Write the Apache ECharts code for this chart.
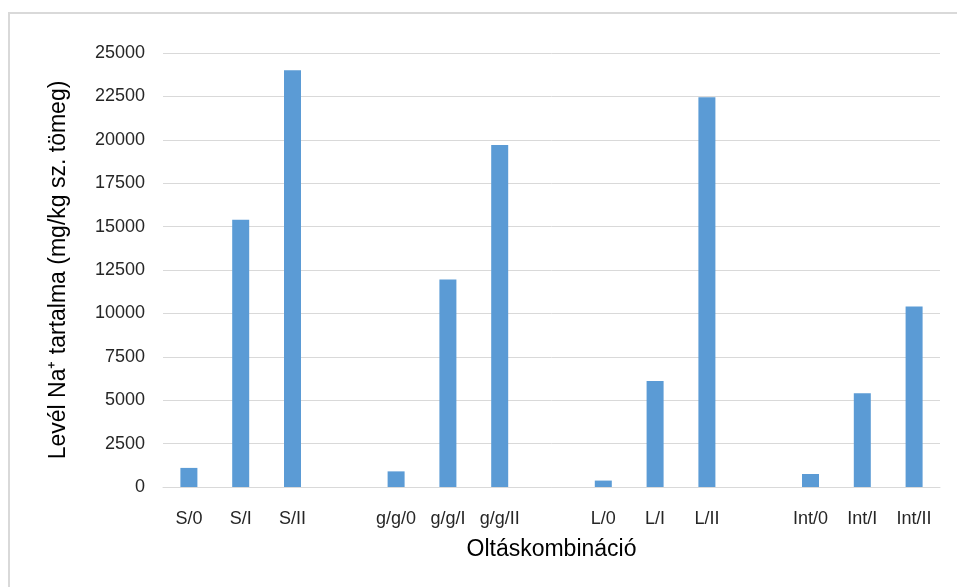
<!DOCTYPE html>
<html>
<head>
<meta charset="utf-8">
<script src="https://cdn.jsdelivr.net/npm/echarts@6/dist/echarts.min.js"></script>
<style>
html,body{margin:0;padding:0;background:#fff;}
#chart{width:957px;height:587px;}
</style>
</head>
<body>
<div id="chart"></div>
<script>
var categories = ['S/0','S/I','S/II','','g/g/0','g/g/I','g/g/II','','L/0','L/I','L/II','','Int/0','Int/I','Int/II'];
var naValues = [1100, 15400, 24000, null, 900, 11950, 19700, null, 370, 6100, 22450, null, 750, 5400, 10400];
var yTicks = {min: 0, max: 25000, interval: 2500};
var xTitle = 'Oltáskombináció';
var yTitle = 'Levél Na\u207A tartalma (mg/kg sz. tömeg)';

var font = '"Liberation Sans", Arial, sans-serif';
var chart = echarts.init(document.getElementById('chart'), null, {renderer: 'canvas'});
chart.setOption({
  animation: false,
  backgroundColor: '#ffffff',
  graphic: [{
    type: 'rect', silent: true, z: -10,
    shape: {x: 9, y: 13, width: 960, height: 600},
    style: {fill: 'none', stroke: '#d9d9d9', lineWidth: 2}
  }],
  grid: {left: 163, right: 17, top: 53, bottom: 100, containLabel: false},
  xAxis: {
    type: 'category',
    data: categories,
    name: xTitle,
    nameLocation: 'middle',
    nameGap: 51,
    nameTextStyle: {fontFamily: font, fontSize: 23, color: '#000000'},
    axisLine: {lineStyle: {color: '#d9d9d9', width: 1}},
    axisTick: {show: false},
    axisLabel: {interval: 0, margin: 23, fontFamily: font, fontSize: 18, color: '#262626'}
  },
  yAxis: {
    type: 'value',
    min: yTicks.min, max: yTicks.max, interval: yTicks.interval,
    name: yTitle,
    nameLocation: 'middle',
    nameGap: 93,
    nameRotate: 90,
    nameTextStyle: {fontFamily: font, fontSize: 23, color: '#000000'},
    axisLine: {show: false},
    axisTick: {show: false},
    splitLine: {lineStyle: {color: '#d9d9d9', width: 1}},
    axisLabel: {margin: 18, fontFamily: font, fontSize: 18, color: '#262626',
      formatter: function (v) { return String(v); }}
  },
  series: [{
    type: 'bar',
    data: naValues,
    barWidth: 17,
    itemStyle: {color: '#5b9bd5'}
  }]
});
</script>
</body>
</html>
